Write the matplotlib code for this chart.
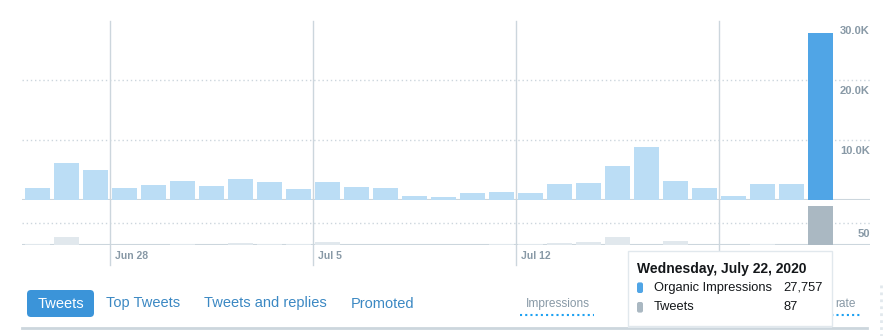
import matplotlib
matplotlib.use('Agg')
import matplotlib.pyplot as plt
import matplotlib.dates as mdates
import matplotlib.transforms as mtransforms
from matplotlib.patches import FancyBboxPatch, Rectangle
from matplotlib.lines import Line2D
import pandas as pd

plt.rcParams['font.family'] = ['Liberation Sans', 'DejaVu Sans']

# datos (impresiones organicas y tweets por dia)
dias = pd.date_range('2020-06-25', '2020-07-22', freq='D')
impresiones = [2050, 6200, 5050, 2050, 2550, 3200, 2400, 3550, 3050, 1900,
               3050, 2200, 2050, 700, 550, 1200, 1400, 1200, 2700, 2900,
               5700, 8900, 3200, 2050, 700, 2700, 2700, 27757]
tweets = [3, 18, 0, 0, 0, 3, 0, 5, 3, 3,
          7, 0, 0, 0, 0, 0, 3, 3, 5, 7,
          18, 0, 10, 0, 0, 3, 0, 87]
ticks_imp = [10000, 20000, 30000]
ticks_tw = [50]
semanas = pd.date_range('2020-06-28', '2020-07-19', freq='7D')
dia_activo = 27  # Wednesday, July 22
pestanas = ['Top Tweets', 'Tweets and replies', 'Promoted']

W, H = 885, 336
AZUL_CLARO = '#bbddf5'
AZUL = '#50a5e6'
GRIS_CLARO = '#e1e8ed'
GRIS = '#aab8c2'
LINEA = '#ccd6dd'
TEXTO_EJE = '#8899a6'

fig = plt.figure(figsize=(W / 100, H / 100), dpi=100)
# transformacion en pixeles (y hacia abajo) para los adornos
px = mtransforms.Affine2D().scale(1 / 100, -1 / 100).translate(0, H / 100) + fig.dpi_scale_trans


def fy(y):
    return 1 - y / H


ax = fig.add_axes([22 / W, fy(200), 848 / W, 180 / H])
ax2 = fig.add_axes([22 / W, fy(245.3), 848 / W, 45.3 / H])

x0 = mdates.date2num(dias[0])
x = mdates.date2num(dias) + 0.5
ancho = 25 / 29

col_imp = [AZUL if i == dia_activo else AZUL_CLARO for i in range(len(dias))]
col_tw = [GRIS if i == dia_activo else GRIS_CLARO for i in range(len(dias))]

ax.bar(x, impresiones, width=ancho, color=col_imp, zorder=2)
ax2.bar(x, tweets, width=ancho, color=col_tw, zorder=2)

bajar = mtransforms.ScaledTranslation(0, -11 / 100, fig.dpi_scale_trans)
for a, lim, tks, fmt in [(ax, 30000, ticks_imp, lambda v: f'{v / 1000:.1f}K'),
                         (ax2, 100, ticks_tw, lambda v: str(v))]:
    a.set_xlim(x0 - 0.03, x0 + 29.2)
    a.set_ylim(0, lim)
    a.axis('off')
    a.axhline(0, color=LINEA, lw=1.5, zorder=1)
    tr = mtransforms.blended_transform_factory(a.transAxes, a.transData)
    for v in tks:
        if v < lim:
            a.axhline(v, color=LINEA, lw=1, ls=(0, (1, 2)), zorder=1)
        a.text(1.0, v, fmt(v), transform=tr + bajar, ha='right', va='center',
               color=TEXTO_EJE, fontsize=8, fontweight='bold')

# lineas verticales de cada semana
tr_v = mtransforms.blended_transform_factory(ax.transData, fig.transFigure)
derecha = mtransforms.ScaledTranslation(5 / 100, 0, fig.dpi_scale_trans)
for d in semanas:
    xd = mdates.date2num(d)
    fig.add_artist(Line2D([xd, xd], [fy(21), fy(265)], transform=tr_v, color=LINEA, lw=1, zorder=2))
    fig.text(xd, fy(256), d.strftime('%b ') + str(d.day), transform=tr_v + derecha,
             ha='left', va='center', color=TEXTO_EJE, fontsize=7.5, fontweight='bold')

# pestanas
fig.add_artist(FancyBboxPatch((27, 290), 67, 27, boxstyle='round,pad=0,rounding_size=4',
                              transform=px, facecolor='#3b94d9', edgecolor='none'))
fig.text(60.5, 303.5, 'Tweets', transform=px, ha='center', va='center', color='white', fontsize=10.5)
for t, xp in zip(pestanas, [106, 204, 351]):
    fig.text(xp, 303.5, t, transform=px, ha='left', va='center', color='#3b88c3', fontsize=10.5)
fig.add_artist(Line2D([22, 867], [327.5, 327.5], transform=px, color=LINEA, lw=2))

# metricas debajo (la del medio queda tapada por el tooltip)
fig.text(558, 304, 'Impressions', transform=px, ha='center', va='center', color=TEXTO_EJE, fontsize=8.6)
fig.add_artist(Line2D([520, 594], [315, 315], transform=px, color='#1da1f2', lw=1.5, ls=(0, (1, 1.5))))
fig.text(856, 304, 'rate', transform=px, ha='right', va='center', color=TEXTO_EJE, fontsize=8.6)
fig.add_artist(Line2D([800, 862], [315, 315], transform=px, color='#1da1f2', lw=1.5, ls=(0, (1, 1.5))))
fig.add_artist(Line2D([881, 881], [285, 336], transform=px, color=GRIS_CLARO, lw=2, ls=(0, (1, 1.5))))

# tooltip
fig.add_artist(Rectangle((628, 251), 204, 77, transform=px, facecolor=GRIS_CLARO, edgecolor='none', zorder=9))
fig.add_artist(Rectangle((628, 251), 204, 75, transform=px, facecolor='white', edgecolor=GRIS_CLARO, lw=1, zorder=10))
fig.text(637, 269, dias[dia_activo].strftime('%A, %B ') + str(dias[dia_activo].day) + dias[dia_activo].strftime(', %Y'),
         transform=px, ha='left', va='center', color='#14171a', fontsize=10, fontweight='bold', zorder=11)
filas = [('Organic Impressions', f'{impresiones[dia_activo]:,}', AZUL, 287.7),
         ('Tweets', str(tweets[dia_activo]), GRIS, 307.3)]
for nombre, valor, c, yp in filas:
    fig.add_artist(FancyBboxPatch((637, yp - 5.3), 6, 10.6, boxstyle='round,pad=0,rounding_size=2',
                                  transform=px, facecolor=c, edgecolor='none', zorder=11))
    fig.text(654, yp, nombre, transform=px, ha='left', va='center', color='#14171a', fontsize=9.3, zorder=11)
    fig.text(783, yp, valor, transform=px, ha='left', va='center', color='#14171a', fontsize=9.3, zorder=11)

fig.savefig('out.png', dpi=100)
